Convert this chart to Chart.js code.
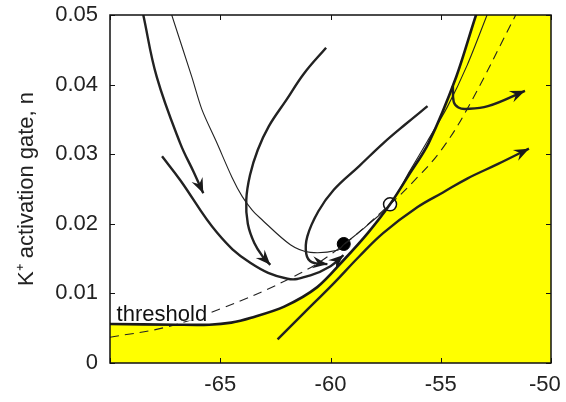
<!DOCTYPE html>
<html>
<head>
<meta charset="utf-8">
<script src="https://cdn.jsdelivr.net/npm/chart.js@4.4.1/dist/chart.umd.min.js"></script>
<style>
  body { margin: 0; background: #fff; }
  #wrap { width: 566px; height: 402px; }
</style>
</head>
<body>
<div id="wrap"><canvas id="chart" width="566" height="402"></canvas></div>
<script>
// membrane potential (mV) vs K+ gate n, phase plane
const xTicks = [-70, -65, -60, -55, -50];
const yTicks = [0, 0.01, 0.02, 0.03, 0.04, 0.05];

// threshold curve (yellow region lies below it)
const thrV = [-70, -67, -65.5, -64.5, -63.6, -62.1, -60.6, -59.4, -58.3, -57.3, -56.45, -55.55, -54.3, -53.4, -52, -50];
const thrN = [0.0056, 0.0055, 0.0055, 0.0058, 0.0065, 0.0081, 0.0109, 0.0148, 0.0187, 0.0228, 0.0270, 0.0316, 0.0411, 0.05, 0.063, 0.081];

// thin manifold through the rest state and saddle
const thinV = [-67.2, -66.29, -65.83, -65.15, -64.47, -64.0, -63.56, -63.18, -61.82, -60.91, -59.68, -59.4, -58.4, -57.3, -56.4, -55.6, -54.7, -53.8, -52.9];
const thinN = [0.05, 0.0411, 0.0364, 0.0316, 0.0267, 0.0239, 0.0220, 0.0208, 0.0170, 0.0159, 0.0162, 0.017, 0.0196, 0.0228, 0.0276, 0.0319, 0.0368, 0.0428, 0.05];

// dashed nullcline
const dashV = [-70, -67.4, -64.9, -62.0, -59.9, -57.3, -56.05, -55.0, -53.8, -51.6];
const dashN = [0.0037, 0.0052, 0.0079, 0.0119, 0.0158, 0.0228, 0.0267, 0.0305, 0.0365, 0.05];

// trajectories (thick, arrow at end)
const tr1V = [-68.49, -67.88, -66.82, -66.2, -65.77];
const tr1N = [0.05, 0.0411, 0.0316, 0.0274, 0.0244];

const tr2V = [-67.64, -66.82, -65.14, -63.64, -61.95, -60.91, -60.0, -59.41];
const tr2N = [0.0297, 0.0263, 0.0187, 0.0144, 0.0121, 0.0126, 0.0139, 0.0155];

const tr3V = [-60.2, -61.2, -62.0, -62.8, -63.3, -63.65, -63.82, -63.75, -63.45, -63.05, -62.73];
const tr3N = [0.0453, 0.0416, 0.0378, 0.0340, 0.0306, 0.0270, 0.0234, 0.0200, 0.0172, 0.0152, 0.0141];

const tr4V = [-55.6, -56.6, -57.6, -58.7, -59.85, -60.55, -61.05, -61.1, -60.85, -60.14];
const tr4N = [0.0369, 0.0343, 0.0316, 0.0283, 0.0249, 0.0218, 0.0182, 0.0157, 0.0145, 0.0142];

const tr5V = [-62.4, -61.2, -59.9, -58.7, -57.6, -56.05, -54.9, -53.8, -52.4, -51.0];
const tr5N = [0.0034, 0.0072, 0.0113, 0.0153, 0.0187, 0.0224, 0.0245, 0.0265, 0.0286, 0.0308];

const tr6V = [-54.45, -54.41, -54.2, -53.86, -52.86, -51.18];
const tr6N = [0.0398, 0.0375, 0.0367, 0.0365, 0.0369, 0.0391];

// fixed points
const restV = [-59.4], restN = [0.0171];
const saddleV = [-57.3], saddleN = [0.0228];

const pts = (xs, ys) => xs.map((x, i) => ({ x: x, y: ys[i] }));
const line = (xs, ys, extra) => Object.assign({
  data: pts(xs, ys), showLine: true, pointRadius: 0, borderColor: '#222',
  borderWidth: 2.4, tension: 0.4, fill: false
}, extra);

const fontFamily = '"Liberation Sans", Arial, sans-serif';

const framePlugin = {
  id: 'frame',
  afterDatasetsDraw(chart) {
    const { ctx, chartArea: a, scales: { x, y } } = chart;
    ctx.save();
    // arrowheads
    chart.data.datasets.forEach(ds => {
      if (!ds.arrow) return;
      const d = ds.data, n = d.length;
      const x1 = x.getPixelForValue(d[n - 2].x), y1 = y.getPixelForValue(d[n - 2].y);
      const x2 = x.getPixelForValue(d[n - 1].x), y2 = y.getPixelForValue(d[n - 1].y);
      const ang = Math.atan2(y2 - y1, x2 - x1);
      const L = 15, W = 6;
      ctx.fillStyle = '#1a1a1a';
      ctx.beginPath();
      ctx.moveTo(x2, y2);
      ctx.lineTo(x2 - L * Math.cos(ang) + W * Math.sin(ang), y2 - L * Math.sin(ang) - W * Math.cos(ang));
      ctx.lineTo(x2 - 0.65 * L * Math.cos(ang), y2 - 0.65 * L * Math.sin(ang));
      ctx.lineTo(x2 - L * Math.cos(ang) - W * Math.sin(ang), y2 - L * Math.sin(ang) + W * Math.cos(ang));
      ctx.closePath();
      ctx.fill();
    });
    // threshold label
    ctx.font = '22px ' + fontFamily;
    ctx.textBaseline = 'alphabetic';
    const tx = x.getPixelForValue(-69.7), ty = y.getPixelForValue(0.0058) - 2;
    const tw = ctx.measureText('threshold').width;
    ctx.fillStyle = '#fff';
    ctx.fillRect(tx - 1, ty - 17, tw + 3, 17);
    ctx.fillStyle = '#111';
    ctx.fillText('threshold', tx, ty);
    // frame and inward ticks
    ctx.strokeStyle = '#111';
    ctx.lineWidth = 1.5;
    ctx.strokeRect(a.left, a.top, a.right - a.left, a.bottom - a.top);
    ctx.lineWidth = 1;
    ctx.beginPath();
    xTicks.forEach(v => {
      const p = Math.round(x.getPixelForValue(v)) + 0.5;
      ctx.moveTo(p, a.bottom); ctx.lineTo(p, a.bottom - 5);
      ctx.moveTo(p, a.top); ctx.lineTo(p, a.top + 5);
    });
    yTicks.forEach(v => {
      const p = Math.round(y.getPixelForValue(v)) + 0.5;
      ctx.moveTo(a.left, p); ctx.lineTo(a.left + 5, p);
      ctx.moveTo(a.right, p); ctx.lineTo(a.right - 5, p);
    });
    ctx.stroke();
    ctx.restore();
  }
};

const font = { family: fontFamily, size: 22 };

new Chart(document.getElementById('chart'), {
  type: 'scatter',
  data: {
    datasets: [
      line(thrV, thrN, { fill: 'origin', backgroundColor: '#ffff00', borderColor: '#1a1a1a', borderWidth: 2.6, tension: 0.3 }),
      line(thinV, thinN, { borderWidth: 1.1, tension: 0.3 }),
      line(dashV, dashN, { borderWidth: 1.1, borderDash: [9, 6] }),
      line(tr1V, tr1N, { arrow: true }),
      line(tr2V, tr2N, { arrow: true }),
      line(tr3V, tr3N, { arrow: true }),
      line(tr4V, tr4N, { arrow: true }),
      line(tr5V, tr5N, { arrow: true }),
      line(tr6V, tr6N, { arrow: true }),
      { data: pts(restV, restN), pointRadius: 6.5, pointBackgroundColor: '#000', pointBorderColor: '#000', pointBorderWidth: 1 },
      { data: pts(saddleV, saddleN), pointRadius: 6.5, pointBackgroundColor: '#fff', pointBorderColor: '#111', pointBorderWidth: 1.5 }
    ]
  },
  options: {
    responsive: false,
    animation: false,
    layout: { padding: { left: 0, top: 15, right: 15, bottom: 0 } },
    plugins: {
      legend: { display: false },
      tooltip: { enabled: false },
      filler: { drawTime: 'beforeDatasetsDraw' }
    },
    scales: {
      x: {
        type: 'linear', min: -70, max: -50,
        afterBuildTicks: s => { s.ticks = xTicks.map(v => ({ value: v })); },
        afterFit: s => { s.height = 39; s.paddingLeft = 0; s.paddingRight = 0; },
        grid: { display: false, drawTicks: false },
        border: { display: false },
        ticks: { color: '#222', font: font, padding: 9, maxRotation: 0,
          // last label nudged left with a trailing space so it stays on canvas
          callback: v => v === -70 ? '' : (v === -50 ? '-50  ' : String(v)) }
      },
      y: {
        type: 'linear', min: 0, max: 0.05,
        afterBuildTicks: s => { s.ticks = yTicks.map(v => ({ value: v })); },
        afterFit: s => { s.width = 110; s.paddingTop = 0; s.paddingBottom = 0; },
        grid: { display: false, drawTicks: false },
        border: { display: false },
        title: { display: true, text: 'K\u207A activation gate, n', color: '#222', font: font, padding: { top: 14, bottom: 0 } },
        ticks: { color: '#222', font: font, padding: 12,
          callback: v => v === 0 ? '0' : v.toFixed(2) }
      }
    }
  },
  plugins: [framePlugin]
});
</script>
</body>
</html>
